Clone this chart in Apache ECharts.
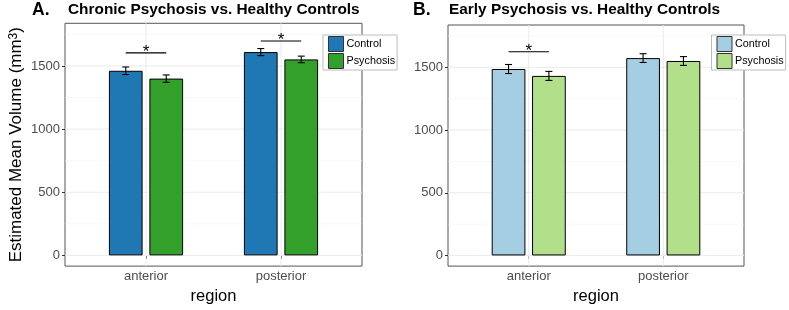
<!DOCTYPE html>
<html>
<head>
<meta charset="utf-8">
<script src="https://cdn.jsdelivr.net/npm/echarts@6/dist/echarts.min.js"></script>
<style>
    html, body { margin: 0; padding: 0; background: #fff; }
    #main { width: 789px; height: 310px; }
</style>
</head>
<body>
<div id="main"></div>
<script>
    // data
    var regions = ['anterior', 'posterior'];
    var yTicks = [0, 500, 1000, 1500];
    var yMinor = [250, 750, 1250, 1750];

    // A. chronic psychosis
    var chronicControl = [1462, 1610];
    var chronicControlSE = [30, 28];
    var chronicPsychosis = [1400, 1552];
    var chronicPsychosisSE = [29, 26];
    var chronicSig = [1604, 1698];   // height of the * bracket, null = none

    // B. early psychosis
    var earlyControl = [1487, 1574];
    var earlyControlSE = [36, 35];
    var earlyPsychosis = [1432, 1551];
    var earlyPsychosisSE = [36, 35];
    var earlySig = [1625, null];

    var FONT = '"Liberation Sans", Arial, Helvetica, sans-serif';
    var DODGE = 0.15;   // bar offset from the region centre, axis units
    var BAR_W = 33.7;

    var chart = echarts.init(document.getElementById('main'));

    //横向/纵向网格线
    function gridSeries(idx) {
        var data = [];
        yTicks.forEach(function (v) { data.push([0, v, 1]); });
        yMinor.forEach(function (v) { data.push([0, v, 0]); });
        regions.forEach(function (r, i) { data.push([i + 1, 0, 2]); });
        return {
            type: 'custom', name: 'grid' + idx, silent: true, z: 1,
            xAxisIndex: idx, yAxisIndex: idx,
            data: data,
            renderItem: function (params, api) {
                var cs = params.coordSys;
                var kind = api.value(2);
                var p = api.coord([api.value(0), api.value(1)]);
                if (kind === 2) {
                    return {type: 'line', shape: {x1: p[0], y1: cs.y, x2: p[0], y2: cs.y + cs.height},
                        style: {stroke: '#ebebeb', lineWidth: 1}};
                }
                return {type: 'line', shape: {x1: cs.x, y1: p[1], x2: cs.x + cs.width, y2: p[1]},
                    style: {stroke: kind === 1 ? '#ebebeb' : '#f3f3f3', lineWidth: kind === 1 ? 1 : 0.6}};
            }
        };
    }

    function barSeries(idx, name, values, color, shift) {
        return {
            type: 'bar', name: name, xAxisIndex: idx, yAxisIndex: idx,
            barWidth: BAR_W, barGap: '-100%', z: 2,
            itemStyle: {color: color, borderColor: '#000', borderWidth: 1},
            data: values.map(function (v, i) { return [i + 1 + shift, v]; })
        };
    }

    //误差线
    function errorSeries(idx, values, se, shift) {
        return {
            type: 'custom', name: 'err', silent: true, z: 3,
            xAxisIndex: idx, yAxisIndex: idx,
            data: values.map(function (v, i) { return [i + 1 + shift, v - se[i], v + se[i]]; }),
            renderItem: function (params, api) {
                var hi = api.coord([api.value(0), api.value(2)]);
                var lo = api.coord([api.value(0), api.value(1)]);
                var w = 3.5;
                var st = {stroke: '#000', lineWidth: 1.1};
                return {type: 'group', children: [
                    {type: 'line', shape: {x1: hi[0], y1: hi[1], x2: lo[0], y2: lo[1]}, style: st},
                    {type: 'line', shape: {x1: hi[0] - w, y1: hi[1], x2: hi[0] + w, y2: hi[1]}, style: st},
                    {type: 'line', shape: {x1: lo[0] - w, y1: lo[1], x2: lo[0] + w, y2: lo[1]}, style: st}
                ]};
            }
        };
    }

    //显著性标记
    function sigSeries(idx, sig) {
        var data = [];
        sig.forEach(function (h, i) {
            if (h !== null) data.push([i + 1 - DODGE, i + 1 + DODGE, h]);
        });
        return {
            type: 'custom', name: 'sig', silent: true, z: 3,
            xAxisIndex: idx, yAxisIndex: idx,
            encode: {x: [0, 1], y: 2},
            data: data,
            renderItem: function (params, api) {
                var a = api.coord([api.value(0), api.value(2)]);
                var b = api.coord([api.value(1), api.value(2)]);
                return {type: 'group', children: [
                    {type: 'line', shape: {x1: a[0], y1: a[1], x2: b[0], y2: b[1]},
                        style: {stroke: '#000', lineWidth: 1.1}},
                    {type: 'text', style: {text: '*', x: (a[0] + b[0]) / 2, y: a[1] - 0.5,
                        align: 'center', verticalAlign: 'middle',
                        fontSize: 17, fontFamily: FONT, fill: '#000'}}
                ]};
            }
        };
    }

    function xAxis(idx) {
        return {
            type: 'value', gridIndex: idx, min: 0.4, max: 2.6,
            name: 'region', nameLocation: 'middle', nameGap: 19,
            nameTextStyle: {fontSize: 16.5, color: '#000', fontFamily: FONT},
            axisLine: {show: false},
            axisTick: {customValues: [1, 2], length: 3.5, lineStyle: {color: '#333'}},
            axisLabel: {customValues: [1, 2], margin: 4, fontSize: 13, color: '#4d4d4d', fontFamily: FONT,
                formatter: function (v) { return regions[Math.round(v) - 1]; }},
            splitLine: {show: false}
        };
    }

    function yAxis(idx, name) {
        return {
            type: 'value', gridIndex: idx, min: -85, max: 1838,
            name: name, nameLocation: 'middle', nameGap: 40,
            nameTextStyle: {fontSize: 17, color: '#000', fontFamily: FONT,
                rich: {sup: {fontSize: 12, verticalAlign: 'top', fontFamily: FONT, color: '#000'}}},
            axisLine: {show: false},
            axisTick: {customValues: yTicks, length: 3, lineStyle: {color: '#333'}},
            axisLabel: {customValues: yTicks, margin: 5, fontSize: 13, color: '#4d4d4d', fontFamily: FONT,
                formatter: function (v) { return String(v); }},
            splitLine: {show: false}
        };
    }

    function legend(left, c1, c2) {
        return {
            left: left, top: 35, orient: 'vertical', selectedMode: false,
            itemWidth: 15, itemHeight: 15, itemGap: 1, icon: 'rect',
            padding: [1, 2, 1, 5],
            backgroundColor: '#fff', borderColor: '#bdbdbd', borderWidth: 1,
            itemStyle: {borderColor: '#333', borderWidth: 1},
            textStyle: {fontSize: 10.8, color: '#000', fontFamily: FONT, padding: [0, 0, 0, -2]},
            data: [
                {name: 'Control', itemStyle: {color: c1}},
                {name: 'Psychosis', itemStyle: {color: c2}}
            ]
        };
    }

    var titleStyle = {fontSize: 15.4, fontWeight: 'bold', color: '#000', fontFamily: FONT};
    var letterStyle = {fontSize: 17.5, fontWeight: 'bold', color: '#000', fontFamily: FONT};

    chart.setOption({
        animation: false,
        title: [
            {text: 'A.', left: 32, top: 1, padding: 0, textStyle: letterStyle},
            {text: 'Chronic Psychosis vs. Healthy Controls', left: 68, top: 2.5, padding: 0, textStyle: titleStyle},
            {text: 'B.', left: 413, top: 1, padding: 0, textStyle: letterStyle},
            {text: 'Early Psychosis vs. Healthy Controls', left: 449, top: 2.5, padding: 0, textStyle: titleStyle}
        ],
        legend: [
            legend(323, '#1F78B4', '#33A02C'),
            legend(711.5, '#A6CEE3', '#B2DF8A')
        ],
        grid: [
            {left: 65, top: 23.3, width: 297, height: 246.7, show: true, borderColor: '#555', borderWidth: 1},
            {left: 448, top: 25, width: 296, height: 246.7, show: true, borderColor: '#555', borderWidth: 1}
        ],
        xAxis: [xAxis(0), xAxis(1)],
        yAxis: [yAxis(0, 'Estimated Mean Volume (mm{sup|3})'), yAxis(1, '')],
        series: [
            gridSeries(0),
            barSeries(0, 'Control', chronicControl, '#1F78B4', -DODGE),
            barSeries(0, 'Psychosis', chronicPsychosis, '#33A02C', DODGE),
            errorSeries(0, chronicControl, chronicControlSE, -DODGE),
            errorSeries(0, chronicPsychosis, chronicPsychosisSE, DODGE),
            sigSeries(0, chronicSig),
            gridSeries(1),
            barSeries(1, 'Control', earlyControl, '#A6CEE3', -DODGE),
            barSeries(1, 'Psychosis', earlyPsychosis, '#B2DF8A', DODGE),
            errorSeries(1, earlyControl, earlyControlSE, -DODGE),
            errorSeries(1, earlyPsychosis, earlyPsychosisSE, DODGE),
            sigSeries(1, earlySig)
        ]
    });
</script>
</body>
</html>
